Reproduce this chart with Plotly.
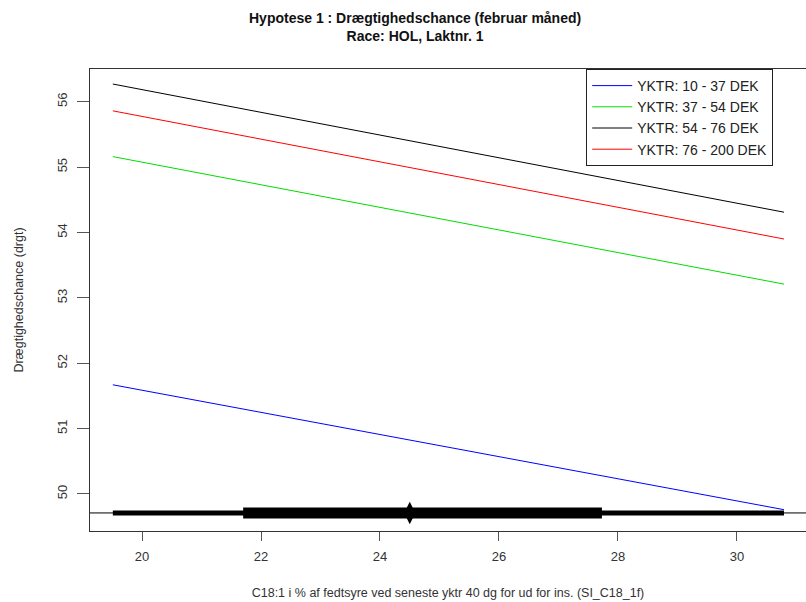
import plotly.graph_objects as go

# ---- data ----
series_names = ["YKTR: 10 - 37 DEK", "YKTR: 37 - 54 DEK", "YKTR: 54 - 76 DEK", "YKTR: 76 - 200 DEK"]
series_colors = ["#0000FF", "#00DD00", "#000000", "#FF0000"]
x_ends = [19.51, 30.79]
y_start = [51.67, 55.16, 56.27, 55.86]
y_end = [49.76, 53.21, 54.31, 53.90]

# horizontal boxplot of the x variable (drawn at the bottom of the plot)
box_level = 49.71
box_whiskers = [19.51, 30.79]
box_quartiles = [21.70, 27.73]
box_median = 24.50

x_ticks = [20, 22, 24, 26, 28, 30]
y_ticks = [50, 51, 52, 53, 54, 55, 56]

fig = go.Figure()

for name, col, y0, y1 in zip(series_names, series_colors, y_start, y_end):
    fig.add_trace(go.Scatter(x=x_ends, y=[y0, y1], mode="lines", name=name,
                             line=dict(color=col, width=1)))

# boxplot pieces
fig.add_shape(type="line", xref="paper", yref="y", x0=0, x1=1, y0=box_level, y1=box_level,
              line=dict(color="#000000", width=1))
fig.add_trace(go.Scatter(x=box_whiskers, y=[box_level] * 2, mode="lines", showlegend=False,
                         line=dict(color="#000000", width=5), hoverinfo="skip"))
fig.add_trace(go.Scatter(x=box_quartiles, y=[box_level] * 2, mode="lines", showlegend=False,
                         line=dict(color="#000000", width=11), hoverinfo="skip"))
fig.add_trace(go.Scatter(x=[box_median], y=[box_level], mode="markers", showlegend=False,
                         marker=dict(symbol="diamond-tall", size=16, color="#000000"),
                         hoverinfo="skip"))

font_family = "Liberation Sans, Arial, sans-serif"

fig.update_layout(
    width=806, height=602,
    margin=dict(l=90, r=0, t=69, b=71, autoexpand=False),
    paper_bgcolor="white", plot_bgcolor="white",
    font=dict(family=font_family, color="#333333", size=13),
    title=dict(text="<b>Hypotese 1 : Drægtighedschance (februar måned)<br>Race: HOL, Laktnr. 1</b>",
               x=0.515, xanchor="center", y=0.962, yanchor="top", yref="container",
               font=dict(family=font_family, size=14, color="#111111")),
    showlegend=True,
    legend=dict(x=0.693, xanchor="left", y=1.0, yanchor="top",
                bordercolor="#222222", borderwidth=1, bgcolor="white",
                font=dict(family=font_family, size=14, color="#222222"),
                tracegroupgap=0, itemwidth=40),
    xaxis=dict(range=[19.126, 31.16], tickvals=x_ticks, ticktext=[str(v) for v in x_ticks],
               showgrid=False, zeroline=False, showline=True, mirror=True,
               linecolor="#333333", linewidth=1,
               ticks="outside", ticklen=9, tickcolor="#555555",
               tickfont=dict(size=13, color="#333333"), ticklabelstandoff=4,
               title=dict(text="C18:1 i % af fedtsyre ved seneste yktr 40 dg for ud for ins. (SI_C18_1f)",
                          font=dict(size=12.5, color="#333333"), standoff=25),
               automargin=False),
    yaxis=dict(range=[49.434, 56.5], tickvals=y_ticks, ticktext=[str(v) for v in y_ticks],
               showgrid=False, zeroline=False, showline=True, mirror=False,
               linecolor="#333333", linewidth=1,
               ticks="outside", ticklen=12, tickcolor="#555555", tickangle=-90,
               tickfont=dict(size=13, color="#333333"), ticklabelstandoff=5,
               title=dict(text="Drægtighedschance (drgt)", font=dict(size=12.5, color="#333333"),
                          standoff=28),
               automargin=False),
)

fig.write_html("out.html", config={"displayModeBar": False},
               post_script="document.body.style.margin='0';document.body.style.padding='0';")
